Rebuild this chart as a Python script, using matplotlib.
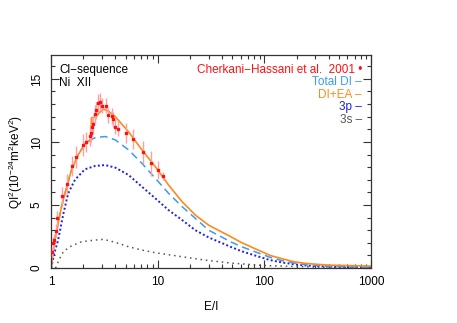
import matplotlib
matplotlib.use("Agg")
import matplotlib.pyplot as plt
from matplotlib.ticker import MultipleLocator, FixedLocator, NullFormatter

plt.rcParams['font.family'] = ['Liberation Sans', 'DejaVu Sans']
plt.rcParams['mathtext.fontset'] = 'custom'
plt.rcParams['mathtext.rm'] = 'Liberation Sans'
plt.rcParams['mathtext.it'] = 'Liberation Sans'

# measured points (Cherkani-Hassani et al. 2001)
exp_x = [1.015, 1.04, 1.07, 1.11, 1.13, 1.26, 1.42, 1.56, 1.72, 1.98, 2.13, 2.29,
         2.36, 2.43, 2.48, 2.57, 2.64, 2.74, 2.84, 3.01, 3.26, 3.43, 3.68, 3.84,
         3.99, 4.26, 4.98, 5.80, 7.19, 8.57, 9.96, 11.3]
exp_y = [1.25, 1.96, 2.2, 2.96, 3.94, 5.7, 6.67, 8.1, 8.8, 9.76, 10.0, 10.5,
         10.7, 11.2, 11.4, 12.2, 12.5, 13.1, 13.2, 12.86, 12.86, 12.1, 12.06, 11.8,
         11.2, 11.05, 10.74, 10.26, 9.18, 8.3, 7.78, 7.3]
exp_err = [0.4, 0.5, 0.5, 0.5, 0.6, 0.7, 0.8, 0.8, 0.9, 0.9, 0.8, 0.8,
           0.7, 0.7, 0.7, 0.7, 0.7, 0.7, 0.7, 0.6, 0.6, 0.6, 0.6, 0.6,
           0.6, 0.6, 0.8, 0.8, 0.9, 1.0, 0.7, 0.3]

# Total DI
di_x = [1.0, 1.04, 1.083, 1.163, 1.25, 1.39, 1.55, 1.79, 2.07, 2.39, 2.59, 3.21,
        4.0, 5.32, 7.1, 9.47, 12.6, 16.9, 22.5, 30, 40, 48, 60, 74, 113, 150, 190,
        250, 390, 600, 1000]
di_y = [0.0, 1.2, 2.2, 3.55, 4.87, 6.35, 7.78, 8.97, 9.84, 10.2, 10.34, 10.43,
        10.16, 9.37, 8.3, 7.12, 5.93, 4.87, 3.94, 3.0, 2.45, 2.09, 1.72, 1.43, 0.85,
        0.57, 0.4, 0.25, 0.15, 0.09, 0.06]

# DI + EA
ea_x = [1.0, 1.04, 1.083, 1.163, 1.25, 1.39, 1.55, 1.79, 2.07, 2.37, 2.38, 2.64,
        2.85, 3.1, 3.5, 4.0, 5.32, 7.1, 9.47, 12.6, 16.9, 22.5, 30, 40, 48, 60, 74,
        113, 150, 190, 250, 390, 600, 1000]
ea_y = [0.0, 1.2, 2.2, 3.55, 4.87, 6.35, 7.78, 8.97, 9.84, 10.25, 11.9, 12.0,
        12.35, 12.6, 12.4, 12.0, 10.8, 9.37, 8.04, 6.59, 5.26, 4.2, 3.4, 2.85, 2.5,
        2.05, 1.7, 1.0, 0.72, 0.5, 0.36, 0.24, 0.2, 0.16]

# 3p
p3_x = [1.0, 1.04, 1.08, 1.16, 1.30, 1.44, 1.67, 2.07, 2.59, 3.21, 4.0, 5.32,
        7.1, 9.47, 12.6, 16.9, 22.5, 30, 40, 48, 60, 74, 113, 150, 190, 250, 390,
        600, 1000]
p3_y = [0.0, 0.7, 1.3, 2.2, 4.3, 5.9, 7.0, 7.83, 8.1, 8.17, 7.96, 7.38,
        6.45, 5.53, 4.6, 3.81, 3.0, 2.43, 1.98, 1.69, 1.36, 1.11, 0.63, 0.43, 0.3,
        0.2, 0.12, 0.08, 0.05]

# 3s
s3_x = [1.1, 1.18, 1.30, 1.5, 1.93, 2.57, 3.1, 4.0, 5.32, 7.1, 9.47, 16.9,
        27.9, 48, 100, 300, 1000]
s3_y = [0.0, 0.63, 1.3, 1.7, 2.09, 2.22, 2.28, 2.04, 1.69, 1.43, 1.22, 0.9,
        0.63, 0.4, 0.2, 0.08, 0.03]

fig = plt.figure(figsize=(4.57, 3.23), dpi=100)
ax = fig.add_axes([0.112, 0.170, 0.700, 0.660])

ax.plot(s3_x, s3_y, linestyle=(0, (1, 2.5)), color='#555555', lw=1.1)
ax.plot(p3_x, p3_y, linestyle=(0, (1, 1.2)), color='#1f1fe6', lw=1.4)
ax.plot(di_x, di_y, linestyle=(0, (5, 3)), color='#3a9cf0', lw=1.1)
ax.plot(ea_x, ea_y, '-', color='#ff8a1c', lw=1.2)
ax.errorbar(exp_x, exp_y, yerr=exp_err, fmt='s', ms=1.8, color='#ff1010',
            ecolor='#ffa0a0', elinewidth=1.0, capsize=0, zorder=5)

ax.set_xscale('log')
ax.set_xlim(1, 1000)
ax.set_ylim(0, 16.9)
ax.xaxis.set_major_locator(FixedLocator([1, 10, 100, 1000]))
ax.set_xticklabels(['1', '10', '100', '1000'])
ax.xaxis.set_minor_formatter(NullFormatter())
ax.yaxis.set_major_locator(MultipleLocator(5))
ax.yaxis.set_minor_locator(MultipleLocator(1))
for lab in ax.get_yticklabels():
    lab.set_rotation(90)
    lab.set_va('center')
ax.tick_params(which='both', direction='in', top=True, right=True,
               colors='#333333', labelcolor='black', labelsize=8.5, width=0.8)
ax.tick_params(which='major', length=6, pad=6)
ax.tick_params(which='minor', length=3)
for s in ax.spines.values():
    s.set_color('#333333')
    s.set_linewidth(0.9)

ax.set_xlabel('E/I', fontsize=8.5, labelpad=9)
ax.set_ylabel(r'QI$^2$(10$^{-24}$m$^2$keV$^2$)', fontsize=8.5, labelpad=4)

fs = 8.5
ax.text(59 / 457, 1 - 70 / 323, 'Cl\u2212sequence', transform=fig.transFigure,
        fontsize=fs, va='center', ha='left')
ax.text(59 / 457, 1 - 82.5 / 323, 'Ni  XII', transform=fig.transFigure,
        fontsize=fs, va='center', ha='left')

xr = 362 / 457
ax.text(xr, 1 - 70 / 323, 'Cherkani\u2212Hassani et al.  2001 \u2022', transform=fig.transFigure,
        fontsize=fs, va='center', ha='right', color='#ff1010')
ax.text(xr, 1 - 82.3 / 323, 'Total DI \u2013', transform=fig.transFigure,
        fontsize=fs, va='center', ha='right', color='#3a9cf0')
ax.text(xr, 1 - 94.5 / 323, 'DI+EA \u2013', transform=fig.transFigure,
        fontsize=fs, va='center', ha='right', color='#ff8a1c')
ax.text(xr, 1 - 107.3 / 323, '3p \u2013', transform=fig.transFigure,
        fontsize=fs, va='center', ha='right', color='#1f1fe6')
ax.text(xr, 1 - 120 / 323, '3s \u2013', transform=fig.transFigure,
        fontsize=fs, va='center', ha='right', color='#555555')

fig.savefig('out.png', dpi=100)
